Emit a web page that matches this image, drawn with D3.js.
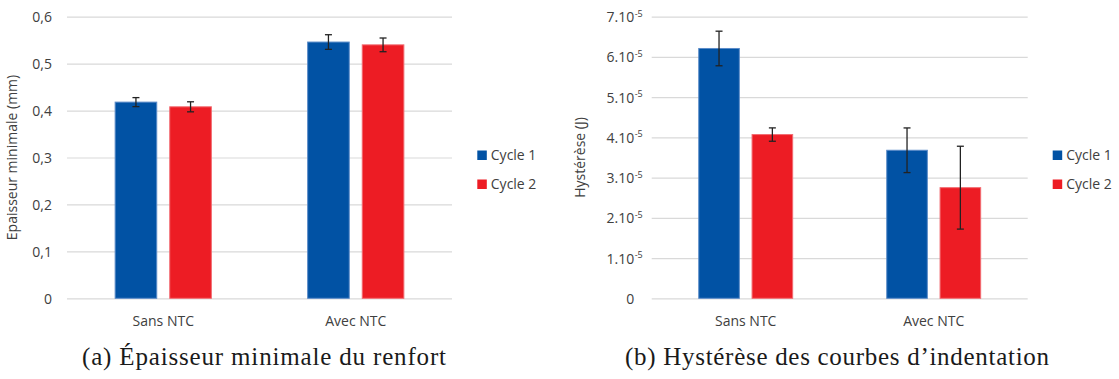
<!DOCTYPE html>
<html>
<head>
<meta charset="utf-8">
<script src="https://cdn.jsdelivr.net/npm/d3@7"></script>
<style>
  body { margin: 0; background: #fff; }
  svg text { font-family: "Open Sans", sans-serif; }
</style>
</head>
<body>
<svg id="chart" width="1119" height="379"></svg>
<script>
// categories and series
const categories = ["Sans NTC", "Avec NTC"];
const seriesNames = ["Cycle 1", "Cycle 2"];
const seriesColors = ["#0152A4", "#ED1C24"];
const seriesEdges = ["#5b8bc8", "#f26a70"];

// (a) minimum thickness (mm)
const thickCycle1 = [0.418, 0.546];
const thickCycle2 = [0.408, 0.540];
const thickErr1 = [0.0096, 0.0156];
const thickErr2 = [0.0107, 0.0146];
const thickTicks = [0, 0.1, 0.2, 0.3, 0.4, 0.5, 0.6];
const thickTickLabels = ["0", "0,1", "0,2", "0,3", "0,4", "0,5", "0,6"];

// (b) hysteresis (J)
const hystCycle1 = [6.21e-5, 3.68e-5];
const hystCycle2 = [4.07e-5, 2.75e-5];
const hystErr1 = [0.43e-5, 0.555e-5];
const hystErr2 = [0.166e-5, 1.03e-5];
const hystTicks = [0, 1e-5, 2e-5, 3e-5, 4e-5, 5e-5, 6e-5, 7e-5];
const hystTickLabels = ["0", "1.10", "2.10", "3.10", "4.10", "5.10", "6.10", "7.10"];
const hystTickExp = ["", "-5", "-5", "-5", "-5", "-5", "-5", "-5"];

const svg = d3.select("#chart");
const textColor = "#404040";

function drawChart(opt) {
  const g = svg.append("g");
  const y = d3.scaleLinear().domain(opt.domain).range([298.3, 16.7]);
  const x0 = d3.scaleBand().domain(categories).range([opt.left, opt.right]);
  const step = x0.bandwidth();
  const groupFrac = 0.505;
  const x1 = d3.scaleBand().domain(seriesNames)
    .range([step * (1 - groupFrac) / 2, step * (1 + groupFrac) / 2])
    .paddingInner(0.22);

  // gridlines + tick labels from the axis
  const axis = d3.axisLeft(y)
    .tickValues(opt.ticks)
    .tickSize(-(opt.right - opt.left))
    .tickPadding(opt.pad)
    .tickFormat((d, i) => opt.labels[i]);
  const ax = g.append("g")
    .attr("transform", `translate(${opt.left},0)`)
    .call(axis);
  ax.select(".domain").remove();
  ax.selectAll(".tick line").attr("stroke", "#d9d9d9").attr("stroke-width", 1.2);
  ax.selectAll(".tick text")
    .attr("fill", textColor)
    .style("font-size", "14px")
    .attr("dy", "0.36em");
  if (opt.exp) {
    ax.selectAll(".tick").each(function(d, i) {
      if (!opt.exp[i]) return;
      d3.select(this).append("text")
        .attr("x", -opt.pad + 0.5)
        .attr("y", -0.5)
        .attr("fill", textColor)
        .attr("text-anchor", "start")
        .style("font-size", "9px")
        .text(opt.exp[i]);
    });
  }

  // bars
  const rows = categories.map((c, i) => ({
    cat: c,
    vals: seriesNames.map((s, k) => ({ s, k, v: opt.values[k][i], e: opt.errs[k][i] }))
  }));
  const grp = g.selectAll(".cat").data(rows).enter().append("g")
    .attr("transform", d => `translate(${x0(d.cat)},0)`);
  grp.selectAll("rect").data(d => d.vals).enter().append("rect")
    .attr("x", d => x1(d.s) + 0.5)
    .attr("y", d => y(d.v))
    .attr("width", x1.bandwidth() - 1)
    .attr("height", d => y(0) - y(d.v))
    .attr("fill", d => seriesColors[d.k])
    .attr("stroke", d => seriesEdges[d.k])
    .attr("stroke-width", 1);

  // error bars
  const eb = grp.selectAll(".err").data(d => d.vals).enter().append("g")
    .attr("stroke", "#222").attr("stroke-width", 1.3);
  const cx = d => x1(d.s) + x1.bandwidth() / 2;
  eb.append("line").attr("x1", cx).attr("x2", cx)
    .attr("y1", d => y(d.v + d.e)).attr("y2", d => y(d.v - d.e));
  eb.append("line").attr("x1", d => cx(d) - 3.5).attr("x2", d => cx(d) + 3.5)
    .attr("y1", d => y(d.v + d.e)).attr("y2", d => y(d.v + d.e));
  eb.append("line").attr("x1", d => cx(d) - 3.5).attr("x2", d => cx(d) + 3.5)
    .attr("y1", d => y(d.v - d.e)).attr("y2", d => y(d.v - d.e));

  // category labels
  g.selectAll(".catlab").data(categories).enter().append("text")
    .attr("x", d => x0(d) + step / 2)
    .attr("y", 326)
    .attr("text-anchor", "middle")
    .attr("fill", textColor)
    .style("font-size", "14px")
    .text(d => d);

  // y-axis title
  g.append("text")
    .attr("transform", `translate(${opt.titleX},157.5) rotate(-90)`)
    .attr("text-anchor", "middle")
    .attr("fill", textColor)
    .style("font-size", "14px")
    .text(opt.title);

  // legend
  const lg = g.selectAll(".leg").data(seriesNames).enter().append("g")
    .attr("transform", (d, i) => `translate(${opt.legendX},${150.5 + i * 29})`);
  lg.append("rect").attr("width", 9.5).attr("height", 9.5)
    .attr("fill", (d, i) => seriesColors[i]);
  lg.append("text").attr("x", 13.5).attr("y", 9.7)
    .attr("fill", textColor)
    .style("font-size", "14px")
    .text(d => d);

  // caption
  svg.append("text")
    .attr("x", opt.captionX)
    .attr("y", 365)
    .attr("text-anchor", "middle")
    .attr("fill", "#1a1a1a")
    .attr("textLength", opt.captionW)
    .attr("lengthAdjust", "spacing")
    .style("font-family", "'Liberation Serif', serif")
    .style("font-size", "25px")
    .text(opt.caption);
}

drawChart({
  left: 67, right: 452, domain: [0, 0.6],
  ticks: thickTicks, labels: thickTickLabels, pad: 15,
  values: [thickCycle1, thickCycle2], errs: [thickErr1, thickErr2],
  title: "Epaisseur minimale (mm)", titleX: 17,
  legendX: 477.3,
  caption: "(a) Épaisseur minimale du renfort", captionX: 264, captionW: 364
});

drawChart({
  left: 651.7, right: 1027.7, domain: [0, 7e-5],
  ticks: hystTicks, labels: hystTickLabels, exp: hystTickExp, pad: 17.5,
  values: [hystCycle1, hystCycle2], errs: [hystErr1, hystErr2],
  title: "Hystérèse (J)", titleX: 585,
  legendX: 1052.7,
  caption: "(b) Hystérèse des courbes d’indentation", captionX: 837, captionW: 424
});
</script>
</body>
</html>
